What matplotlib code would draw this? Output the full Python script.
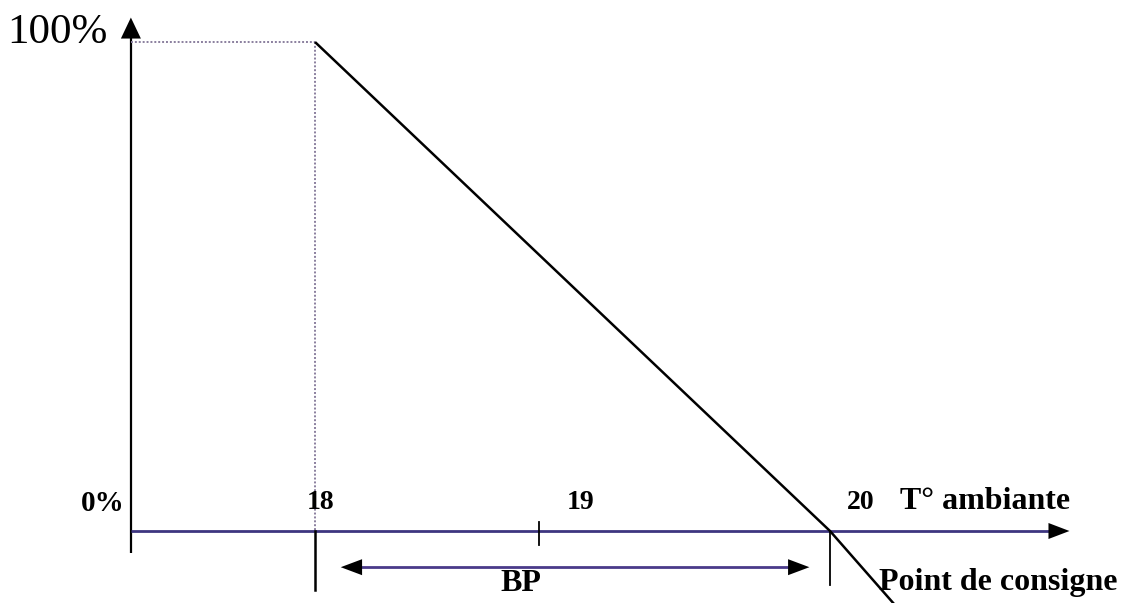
import matplotlib
matplotlib.use("Agg")
import matplotlib.pyplot as plt

# ---- data (temperature in °C, output in %) ----
pct_levels = [0, 100]
band_start, band_end = 18, 20          # proportional band BP
response_T = [18, 20, 20.25]           # output line (continues past set point)
response_pct = [100, 0, -15]
tick_pos = [18, 18.87, 20]             # tick marks on temperature axis
tick_labels = ["18", "19", "20"]
yaxis_T = 17.285                       # where the output axis stands
xaxis_end_T = 20.93
yaxis_top_pct = 105
bp_arrow = [18.1, 19.92]

# ---- figure, axes in data units ----
W, H = 1136, 603
fig = plt.figure(figsize=(W / 100, H / 100), dpi=100)
ax = fig.add_axes([0, 0, 1, 1])
ax.axis("off")
# pixel mapping: 18 -> 315 px, 20 -> 830 px ; 100% -> 42 px, 0% -> 531 px
px_per_T = (830 - 315) / (band_end - band_start)
px_per_pct = (531 - 42) / 100
ax.set_xlim(18 - 315 / px_per_T, 18 + (W - 315) / px_per_T)
ax.set_ylim(-(H - 531) / px_per_pct, 100 + 42 / px_per_pct)

serif = ["Liberation Serif", "DejaVu Serif"]
axis_col = "#3d3580"
dot_col = "#8a7f9e"

# output axis (vertical)
ax.plot([yaxis_T, yaxis_T], [-4.5, yaxis_top_pct - 3], color="black", lw=1.6,
        solid_capstyle="butt")
ax.annotate("", xy=(yaxis_T, yaxis_top_pct), xytext=(yaxis_T, yaxis_top_pct - 3),
            arrowprops=dict(arrowstyle="-|>,head_length=0.42,head_width=0.2",
                            mutation_scale=36, color="black", lw=0,
                            shrinkA=0, shrinkB=0))

# temperature axis (horizontal)
ax.plot([yaxis_T, xaxis_end_T - 0.06], [0, 0], color=axis_col, lw=2.0,
        solid_capstyle="butt")
ax.annotate("", xy=(xaxis_end_T, 0), xytext=(xaxis_end_T - 0.06, 0),
            arrowprops=dict(arrowstyle="-|>,head_length=0.42,head_width=0.16",
                            mutation_scale=36, color="black", lw=0,
                            shrinkA=0, shrinkB=0))

# dotted guides to 100 % level
ax.plot([yaxis_T, band_start], [100, 100], color=dot_col, lw=1.4,
        linestyle=(0, (1, 1)))
ax.plot([band_start, band_start], [100, 0], color=dot_col, lw=1.4,
        linestyle=(0, (1, 1)))

# output response line
ax.plot(response_T, response_pct, color="black", lw=1.8, solid_capstyle="butt")

# tick marks
ax.plot([tick_pos[0]] * 2, [0, -12], color="black", lw=1.8)
ax.plot([tick_pos[1]] * 2, [1.8, -2.9], color="black", lw=1.3)
ax.plot([tick_pos[2]] * 2, [0, -11], color="black", lw=1.3)

# BP double arrow
ax.plot([bp_arrow[0] + 0.06, bp_arrow[1] - 0.06], [-7.4, -7.4], color="#4a3a8a",
        lw=2.0, solid_capstyle="butt")
for tip, base in [(bp_arrow[0], bp_arrow[0] + 0.06), (bp_arrow[1], bp_arrow[1] - 0.06)]:
    ax.annotate("", xy=(tip, -7.4), xytext=(base, -7.4),
                arrowprops=dict(arrowstyle="-|>,head_length=0.48,head_width=0.18",
                                mutation_scale=32, color="black", lw=0,
                                shrinkA=0, shrinkB=0))

# labels
ax.text(yaxis_T - 0.09, 101.9, f"{pct_levels[1]}%", family=serif, fontsize=31,
        ha="right", va="center")
ax.text(yaxis_T - 0.025, 5.7, f"{pct_levels[0]}%", family=serif, fontsize=21,
        fontweight="bold", ha="right", va="center")
label_T = [18.02, 19.03, 20.12]
for t, lab in zip(label_T, tick_labels):
    ax.text(t, 5.9, lab, family=serif, fontsize=20, fontweight="bold",
            ha="center", va="center")
ax.text(20.27, 6.0, "T° ambiante", family=serif, fontsize=23, fontweight="bold",
        ha="left", va="center")
ax.text(18.8, -10.8, "BP", family=serif, fontsize=23, fontweight="bold",
        ha="center", va="center")
ax.text(20.19, -10.6, "Point de consigne", family=serif, fontsize=23,
        fontweight="bold", ha="left", va="center")

fig.savefig("out.png", dpi=100, facecolor="white")
